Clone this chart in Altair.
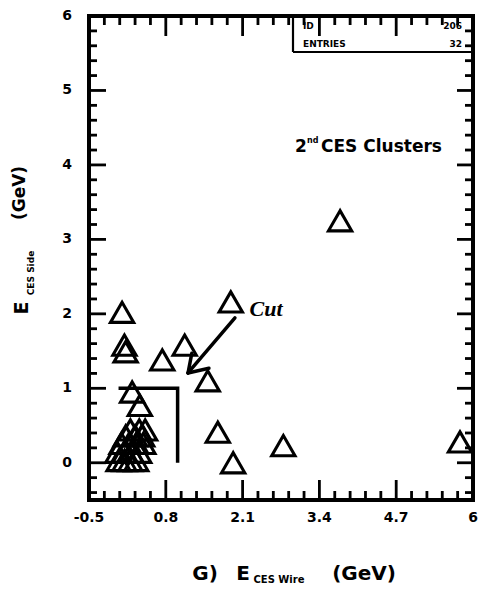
import altair as alt
import pandas as pd

# Second CES clusters: wire-view energy vs strip-view energy (GeV)
e_wire = [0.06, 0.10, 0.12, 0.74, 1.12, 1.90, 1.51, 0.23, 0.36, 1.68, 1.94, 2.79, 5.78, 3.75,
          0.20, 0.35, 0.45,
          0.12, 0.28, 0.40,
          0.05, 0.18, 0.30, 0.42,
          -0.02, 0.10, 0.22, 0.35,
          0.00, 0.10, 0.20, 0.30]
e_side = [2.02, 1.58, 1.49, 1.38, 1.58, 2.16, 1.10, 0.95, 0.77, 0.41, 0.00, 0.23, 0.28, 3.25,
          0.44, 0.44, 0.44,
          0.36, 0.36, 0.36,
          0.26, 0.26, 0.26, 0.26,
          0.14, 0.14, 0.14, 0.14,
          0.03, 0.03, 0.03, 0.03]

# selection cut drawn as an L-shaped boundary
cut_x = [0.0, 1.0, 1.0]
cut_y = [1.0, 1.0, 0.0]

# arrow pointing at the cut (shaft + two barbs)
arrow_x = [1.97, 1.176, 1.176]
arrow_y = [1.945, 1.206, 1.206]
arrow_x2 = [1.176, 1.24, 1.53]
arrow_y2 = [1.206, 1.47, 1.27]

x_major = [-0.5, 0.8, 2.1, 3.4, 4.7, 6.0]
x_labels = ["-0.5", "0.8", "2.1", "3.4", "4.7", "6"]
y_major = [0, 1, 2, 3, 4, 5, 6]
y_labels = ["0", "1", "2", "3", "4", "5", "6"]
x_minor = [round(a + k * 0.26, 2) for a in x_major[:-1] for k in range(1, 5)]
y_minor = [-0.4, -0.2] + [round(m + k * 0.2, 1) for m in range(6) for k in range(1, 5)]

W, H = 384, 484
FONT = "DejaVu Sans"

xs = alt.Scale(domain=[-0.5, 6], nice=False, zero=False)
ys = alt.Scale(domain=[-0.5, 6], nice=False, zero=False)

pts = pd.DataFrame({"wire": e_wire, "side": e_side})

points = alt.Chart(pts).mark_point(
    shape="triangle-up", size=540, filled=False, stroke="black", strokeWidth=3.1, opacity=1
).encode(
    x=alt.X("wire:Q", scale=xs, axis=None),
    y=alt.Y("side:Q", scale=ys, axis=None),
)

cut = alt.Chart(pd.DataFrame({"cx": cut_x, "cy": cut_y, "o": [0, 1, 2]})).mark_line(
    color="black", strokeWidth=3.5
).encode(
    x=alt.X("cx:Q", scale=xs, axis=None),
    y=alt.Y("cy:Q", scale=ys, axis=None),
    order="o:Q",
)

arrow = alt.Chart(pd.DataFrame({"ax": arrow_x, "ay": arrow_y, "ax2": arrow_x2, "ay2": arrow_y2})).mark_rule(
    color="black", strokeWidth=3.5, strokeCap="round"
).encode(
    x=alt.X("ax:Q", scale=xs, axis=None),
    y=alt.Y("ay:Q", scale=ys, axis=None),
    x2="ax2:Q",
    y2="ay2:Q",
)


def xticks(vals, length):
    df = pd.DataFrame({"t": vals})
    base = alt.Chart(df).mark_rule(color="black", strokeWidth=2.8)
    bottom = base.encode(x=alt.X("t:Q", scale=xs, axis=None),
                         y=alt.value(H), y2=alt.value(H - length))
    top = base.encode(x=alt.X("t:Q", scale=xs, axis=None),
                      y=alt.value(0), y2=alt.value(length))
    return [bottom, top]


def yticks(vals, left_len, right_len):
    df = pd.DataFrame({"t": vals})
    base = alt.Chart(df).mark_rule(color="black", strokeWidth=2.8)
    left = base.encode(y=alt.Y("t:Q", scale=ys, axis=None),
                       x=alt.value(0), x2=alt.value(left_len))
    right = base.encode(y=alt.Y("t:Q", scale=ys, axis=None),
                        x=alt.value(W), x2=alt.value(W - right_len))
    return [left, right]


# tick labels placed through the same scales
x_tick_text = alt.Chart(pd.DataFrame({"t": x_major, "lbl": x_labels})).mark_text(
    font=FONT, fontSize=14, fontWeight="bold", color="black", baseline="top", align="center"
).encode(x=alt.X("t:Q", scale=xs, axis=None), y=alt.value(H + 11), text="lbl:N")

y_tick_text = alt.Chart(pd.DataFrame({"t": y_major, "lbl": y_labels})).mark_text(
    font=FONT, fontSize=14, fontWeight="bold", color="black", baseline="middle", align="right"
).encode(y=alt.Y("t:Q", scale=ys, axis=None), x=alt.value(-17), text="lbl:N")


def label(text, px, py, size, weight="bold", font=FONT, align="center",
          angle=0, style=None, baseline="middle"):
    kw = dict(text=text, fontSize=size, fontWeight=weight, font=font,
              align=align, baseline=baseline, color="black", angle=angle)
    if style:
        kw["fontStyle"] = style
    return alt.Chart(alt.Data(values=[{}])).mark_text(**kw).encode(
        x=alt.value(px), y=alt.value(py)
    )


# statistics box in the top-right corner
stat_lines = [
    alt.Chart(alt.Data(values=[{}])).mark_rule(color="black", strokeWidth=2.2).encode(
        x=alt.value(204), y=alt.value(0), y2=alt.value(36)),
    alt.Chart(alt.Data(values=[{}])).mark_rule(color="black", strokeWidth=2.2).encode(
        x=alt.value(204), x2=alt.value(W), y=alt.value(36)),
]
stat_text = [
    label("ID", 214, 10, 9, align="left"),
    label("206", 373, 10, 9, align="right"),
    label("ENTRIES", 214, 28, 9, align="left"),
    label("32", 373, 28, 9, align="right"),
]

annotations = [
    label("2", 206, 131, 17, align="left"),
    label("nd", 218, 125, 8, align="left"),
    label("CES Clusters", 232, 131, 17, align="left"),
    label("Cut", 177, 293, 22, font="Liberation Serif", style="italic"),
    # x-axis title
    label("G)", 116, 558, 20),
    label("E", 154, 558, 20),
    label("CES Wire", 190, 564, 10),
    label("(GeV)", 275, 558, 20),
    # y-axis title (rotated)
    label("E", -67, 292, 19, angle=270),
    label("CES Side", -58, 257, 9, angle=270),
    label("(GeV)", -69, 177, 17, angle=270),
]

layers = (
    xticks(x_major, 20) + xticks(x_minor, 9)
    + yticks(y_major, 17, 16) + yticks(y_minor, 8, 8)
    + stat_lines + [cut, arrow, points, x_tick_text, y_tick_text] + stat_text + annotations
)

chart = alt.layer(*layers).properties(
    width=W, height=H,
    autosize=alt.AutoSizeParams(type="none"),
    padding={"left": 89, "top": 16, "right": 5, "bottom": 94},
    background="white",
).configure_view(
    stroke="black", strokeWidth=4
)

chart.save("out.html", embed_options={"renderer": "svg", "actions": False})
